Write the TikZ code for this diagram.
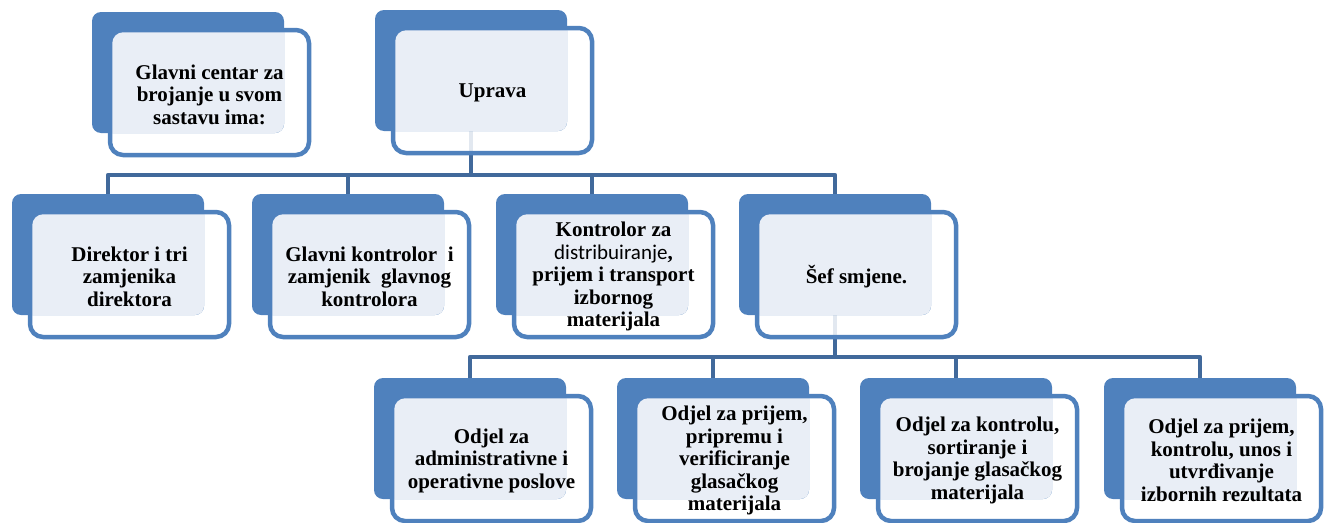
\documentclass[tikz,border=0pt]{standalone}
\usepackage{fontspec}
\setmainfont{Liberation Serif}
\newfontfamily\carlito{Carlito}
\usetikzlibrary{calc}
\pgfdeclarelayer{bg}
\pgfsetlayers{bg,main}
\definecolor{accent}{HTML}{4F81BD}
\definecolor{conncol}{HTML}{41699B}
\definecolor{lightfill}{HTML}{E9EEF6}
\tikzset{
 backbox/.style={rectangle, rounded corners=9pt, fill=accent, minimum width=192pt, minimum height=121pt, inner sep=0pt, outer sep=0pt, anchor=north west},
 frontbox/.style={rectangle, rounded corners=13pt, draw=accent, line width=4.5pt, fill=white, fill opacity=0.85, minimum width=199pt, minimum height=125pt, inner sep=0pt, outer sep=0pt, anchor=north west},
 boxtext/.style={font=\bfseries\fontsize{21}{22.5}\selectfont, align=center, inner sep=0pt, text=black},
 conn/.style={draw=conncol, line width=4.5pt, line join=round},
}
\newcommand\orgbox[5]{%
  \node[frontbox] (#1f) at (#2+18,#3+18) {};
  \node[backbox] (#1b) at (#2,#3) {};
  \begin{scope}
    \clip[rounded corners=9pt] (#1b.north west) rectangle (#1b.south east);
    \fill[lightfill, rounded corners=11pt] ($(#1f.north west)+(2.25,2.25)$) rectangle ($(#1f.south east)+(-2.25,-2.25)$);
  \end{scope}
  \node[boxtext] (#1t) at ($(#1f.center)+(#5,2)$) {#4};
}
\begin{document}
\begin{tikzpicture}[x=1pt,y=-1pt]
\useasboundingbox (0,0) rectangle (1330,522);
\orgbox{A}{92}{12}{Glavni centar za\\brojanje u svom\\sastavu ima:}{0}
\orgbox{B}{375}{10}{Uprava}{0}
\orgbox{C}{12}{194}{Direktor i tri\\zamjenika\\direktora}{0}
\orgbox{D}{252}{194}{Glavni kontrolor\ \ i\\zamjenik\ \ glavnog\\kontrolora}{0}
\orgbox{E}{496}{194}{Kontrolor za\\{\carlito\mdseries distribuiranje},\\prijem i transport\\izbornog\\materijala}{0}
\orgbox{F}{739}{194}{Šef smjene.}{0}
\orgbox{G}{374}{378}{Odjel za\\administrativne i\\operativne poslove}{0}
\orgbox{H}{617}{378}{Odjel za prijem,\\pripremu i\\verificiranje\\glasačkog\\materijala}{0}
\orgbox{I}{860}{378}{Odjel za kontrolu,\\sortiranje i\\brojanje glasačkog\\materijala}{0}
\orgbox{J}{1104}{378}{Odjel za prijem,\\kontrolu, unos i\\utvrđivanje\\izbornih rezultata}{0}
\coordinate (bus1) at (0,175);
\coordinate (bus2) at (0,357);
\begin{pgfonlayer}{bg}
\draw[conn] (Bb.south) -- (Bb.south |- bus1);
\draw[conn] (Cb.north) -- (Cb.north |- bus1) -- (Fb.north |- bus1) -- (Fb.north);
\draw[conn] (Db.north) -- (Db.north |- bus1);
\draw[conn] (Eb.north) -- (Eb.north |- bus1);
\draw[conn] (Fb.south) -- (Fb.south |- bus2);
\draw[conn] (Gb.north) -- (Gb.north |- bus2) -- (Jb.north |- bus2) -- (Jb.north);
\draw[conn] (Hb.north) -- (Hb.north |- bus2);
\draw[conn] (Ib.north) -- (Ib.north |- bus2);
\end{pgfonlayer}
\end{tikzpicture}
\end{document}
